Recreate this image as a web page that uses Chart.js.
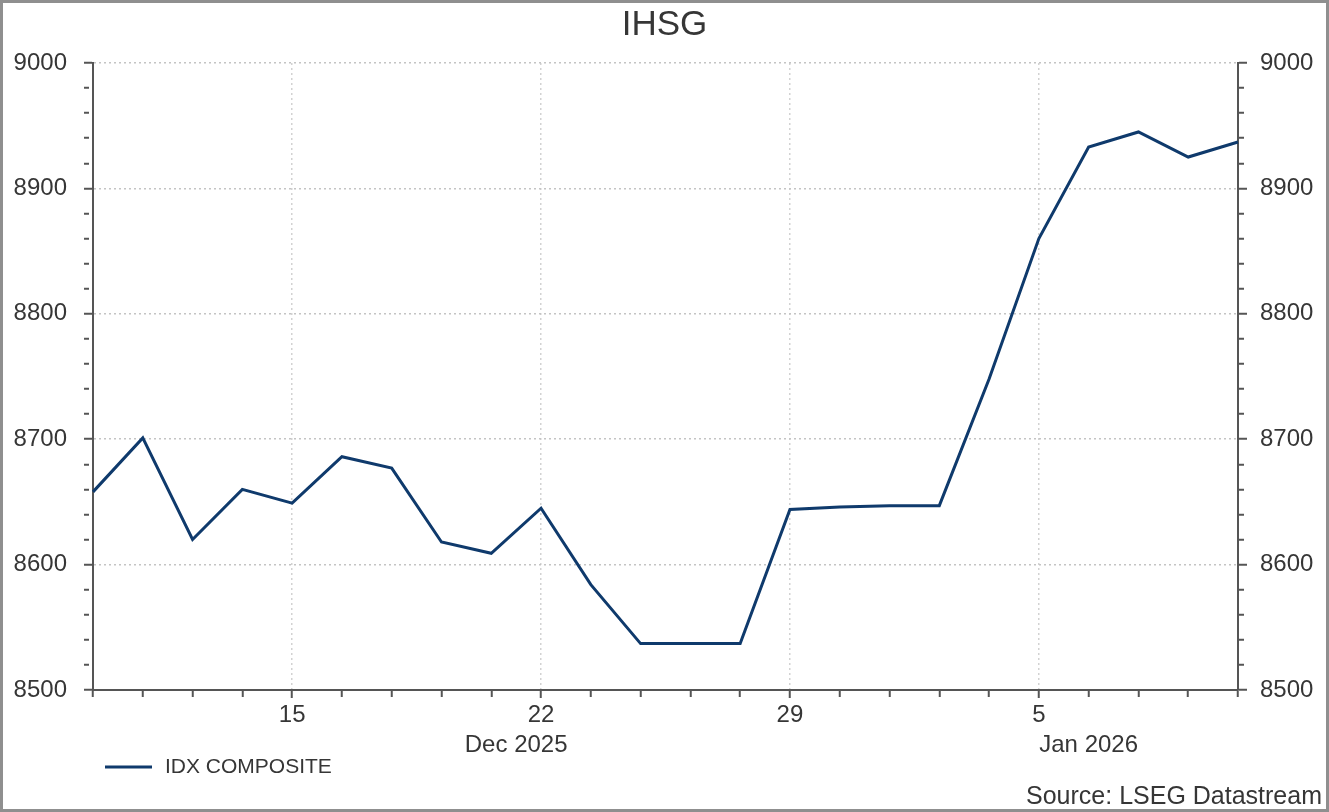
<!DOCTYPE html>
<html>
<head>
<meta charset="utf-8">
<title>IHSG</title>
<script src="https://cdn.jsdelivr.net/npm/chart.js@4/dist/chart.umd.min.js"></script>
<style>
  html, body { margin: 0; padding: 0; background: #fff; }
  #frame {
    position: absolute; left: 0; top: 0;
    width: 1329px; height: 812px;
    box-sizing: border-box;
    border: 3px solid #8f8f8f;
  }
  #wrap { position: absolute; left: 0; top: 0; width: 1329px; height: 812px; }
</style>
</head>
<body>
<div id="frame"></div>
<div id="wrap"><canvas id="chart"></canvas></div>
<script>
// --- data ---
const dates = [
  '2025-12-09', '2025-12-10', '2025-12-11', '2025-12-12',
  '2025-12-15', '2025-12-16', '2025-12-17', '2025-12-18', '2025-12-19',
  '2025-12-22', '2025-12-23', '2025-12-24', '2025-12-25', '2025-12-26',
  '2025-12-29', '2025-12-30', '2025-12-31', '2026-01-01', '2026-01-02',
  '2026-01-05', '2026-01-06', '2026-01-07', '2026-01-08', '2026-01-09'
];
const ihsg = [
  8658, 8701, 8620, 8660,
  8649, 8686, 8677, 8618, 8609,
  8645, 8584, 8537, 8537, 8537,
  8644, 8646, 8647, 8647, 8748,
  8860, 8933, 8945, 8925, 8937
];
const monthLabels = ['Dec 2025', 'Jan 2026'];
const yMin = 8500;
const yMax = 9000;
const yMajor = 100;
const yMinor = 20;

const seriesName = 'IDX COMPOSITE';
const sourceText = 'Source: LSEG Datastream';

const LINE = '#0f3a6c';
const AXIS = '#555555';
const GRID = '#c4c4c4';
const TEXT = '#363636';
const FONT = "'Liberation Sans', Arial, sans-serif";

// Monday ticks get a day number
function isMonday(i) {
  return new Date(dates[i] + 'T00:00:00Z').getUTCDay() === 1;
}
function dayLabel(i) {
  return isMonday(i) ? String(new Date(dates[i] + 'T00:00:00Z').getUTCDate()) : '';
}
// month label sits in the middle of that month's stretch
function monthCenters() {
  const out = [];
  let start = 0;
  for (let i = 1; i <= dates.length; i++) {
    if (i === dates.length || dates[i].slice(0, 7) !== dates[start].slice(0, 7)) {
      const end = i === dates.length ? dates.length - 1 : i;
      out.push((start + end) / 2);
      start = i;
    }
  }
  return out;
}

const isMajor = v => Math.round(v) % yMajor === 0;

function yAxis(position, pad, width) {
  return {
    type: 'linear',
    position: position,
    min: yMin,
    max: yMax,
    afterFit: s => { s.width = width; },
    ticks: {
      stepSize: yMinor,
      autoSkip: false,
      padding: pad,
      color: TEXT,
      font: { family: FONT, size: 24 },
      callback: v => isMajor(v) ? String(Math.round(v)) : ''
    },
    grid: {
      drawOnChartArea: position === 'left',
      color: c => (isMajor(c.tick.value) && c.tick.value !== yMin) ? GRID : 'rgba(0,0,0,0)',
      lineWidth: 1.5,
      tickLength: 9,
      tickColor: AXIS,
      tickWidth: 2,
      tickBorderDash: c => isMajor(c.tick.value) ? [] : [5, 30]
    },
    border: { display: true, color: AXIS, width: 2, dash: [2, 3] }
  };
}

const overlay = {
  id: 'overlay',
  afterDraw(chart) {
    const { ctx, chartArea } = chart;
    ctx.save();
    // legend
    const ly = chartArea.bottom + 77;
    ctx.strokeStyle = LINE;
    ctx.lineWidth = 3;
    ctx.beginPath();
    ctx.moveTo(chartArea.left + 12, ly);
    ctx.lineTo(chartArea.left + 59, ly);
    ctx.stroke();
    ctx.fillStyle = TEXT;
    ctx.font = '21px ' + FONT;
    ctx.textBaseline = 'middle';
    ctx.textAlign = 'left';
    ctx.fillText(seriesName, chartArea.left + 72, ly);
    // source note
    ctx.font = '25px ' + FONT;
    ctx.textAlign = 'right';
    ctx.fillText(sourceText, chart.width - 7, chartArea.bottom + 107);
    ctx.restore();
  }
};

const ctx = document.getElementById('chart').getContext('2d');
new Chart(ctx, {
  type: 'line',
  data: {
    labels: dates,
    datasets: [{
      label: seriesName,
      data: ihsg,
      borderColor: LINE,
      borderWidth: 3,
      pointRadius: 0,
      tension: 0,
      fill: false,
      yAxisID: 'y'
    }]
  },
  options: {
    responsive: true,
    maintainAspectRatio: false,
    animation: false,
    layout: { padding: 0 },
    plugins: {
      legend: { display: false },
      tooltip: { enabled: false },
      title: {
        display: true,
        text: 'IHSG',
        color: TEXT,
        font: { family: FONT, size: 35, weight: 'normal', lineHeight: 1.2 },
        padding: { top: 4, bottom: 17 }
      }
    },
    scales: {
      x: {
        type: 'category',
        position: 'bottom',
        offset: false,
        afterFit: s => { s.height = 40; },
        ticks: {
          autoSkip: false,
          maxRotation: 0,
          padding: 2,
          color: TEXT,
          font: { family: FONT, size: 24, lineHeight: 1.25 },
          callback: (v, i) => dayLabel(i)
        },
        grid: {
          color: c => isMonday(c.index) ? '#d2d2d2' : 'rgba(0,0,0,0)',
          lineWidth: 1.5,
          tickLength: 8,
          tickColor: AXIS,
          tickWidth: 2,
          tickBorderDash: c => isMonday(c.index) ? [] : [6, 30]
        },
        border: { display: true, color: AXIS, width: 2, dash: [2, 3] }
      },
      month: {
        type: 'linear',
        position: 'bottom',
        min: 0,
        max: dates.length - 1,
        afterFit: s => { s.height = 82; },
        afterBuildTicks: s => { s.ticks = monthCenters().map(v => ({ value: v })); },
        ticks: {
          autoSkip: false,
          maxRotation: 0,
          padding: 0,
          color: TEXT,
          font: { family: FONT, size: 24, lineHeight: 1.25 },
          callback: (v, i) => monthLabels[i]
        },
        grid: { display: false, drawTicks: false },
        border: { display: false }
      },
      y: yAxis('left', 17, 93),
      y2: yAxis('right', 13, 91)
    }
  },
  plugins: [overlay]
});
</script>
</body>
</html>
